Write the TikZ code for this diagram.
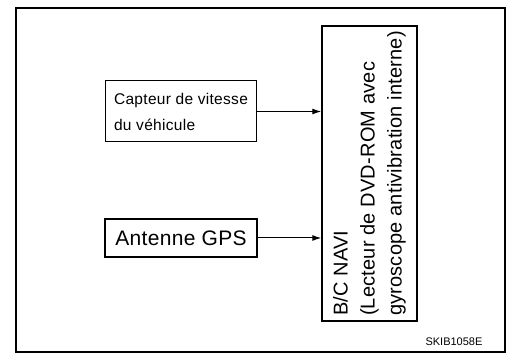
\documentclass[tikz,border=0pt]{standalone}
\usepackage{fontspec}
\setmainfont{Liberation Sans}
\usepackage{tikz}
\usetikzlibrary{arrows,arrows.meta,calc}

\begin{document}
\begin{tikzpicture}[x=1pt,y=1pt,
  unit/.style={draw, rectangle, inner sep=0pt},
  feed/.style={-{Latex[length=9pt,width=6pt]}, line width=1pt}]
  \useasboundingbox (0,0) rectangle (507,354);
  \draw[line width=2.5pt] (16,2) rectangle (505,346);
  \node (cap) [unit, line width=1pt, minimum width=151, minimum height=61, align=left,
    font=\fontsize{15.5}{26}\selectfont\addfontfeatures{LetterSpace=2}]
    at (181,242.5) {Capteur de vitesse\\du v\'ehicule};
  \node (gps) [unit, line width=2pt, minimum width=152, minimum height=38,
    font=\fontsize{21}{25}\selectfont\addfontfeatures{LetterSpace=1.5}]
    at (181,116) {Antenne GPS};
  \node (navi) [unit, line width=1.5pt, rotate=90, minimum width=295, minimum height=95, align=left,
    font=\fontsize{20}{27}\selectfont\addfontfeatures{LetterSpace=1}]
    at (369.5,180.5) {B/C NAVI\\(Lecteur de DVD-ROM avec\\gyroscope antivibration interne)};
  \node (ref) at (454,12) {\fontsize{11}{13}\selectfont SKIB1058E};
  \path[feed]
  (cap.east) edge (cap.east -| navi.north)
  (gps.east) edge (gps.east -| navi.north);
\end{tikzpicture}
\end{document}
